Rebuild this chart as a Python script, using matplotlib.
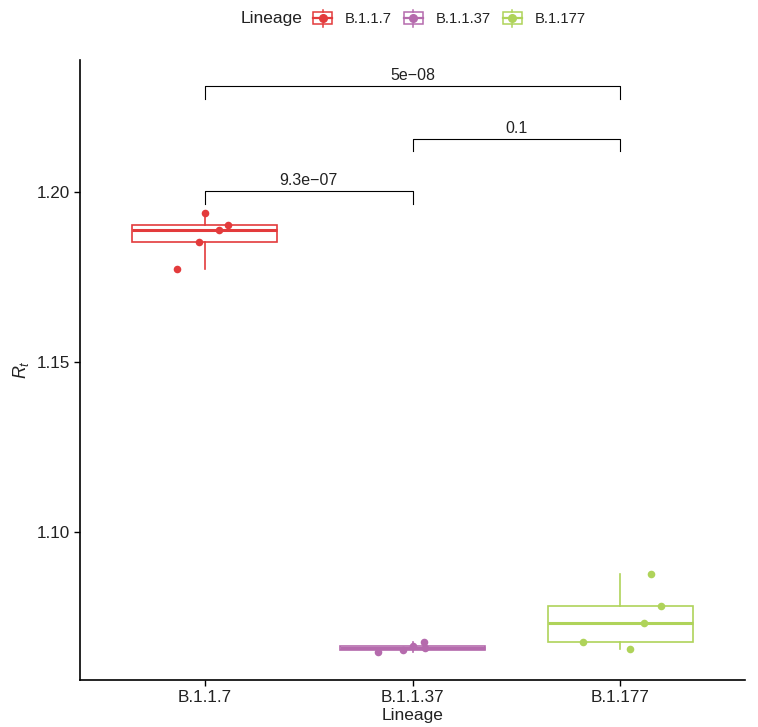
import matplotlib
matplotlib.use("Agg")
import matplotlib.pyplot as plt
from matplotlib.legend_handler import HandlerBase
from matplotlib.patches import Rectangle
from matplotlib.lines import Line2D
import numpy as np

plt.rcParams["font.family"] = ["Liberation Sans", "DejaVu Sans"]
plt.rcParams["mathtext.fontset"] = "custom"
plt.rcParams["mathtext.rm"] = "Liberation Sans"
plt.rcParams["mathtext.it"] = "Liberation Sans:italic"

# ---- data ----
lineages = ["B.1.1.7", "B.1.1.37", "B.1.177"]
colors = ["#E33B3C", "#B56BAD", "#AFD35A"]

rt_b117 = [1.19391, 1.19029, 1.18882, 1.18521, 1.17744]
rt_b1137 = [1.06479, 1.06521, 1.06656, 1.06765, 1.06579]
rt_b1177 = [1.08756, 1.07824, 1.07315, 1.06765, 1.06550]

# horizontal jitter of each sample around its group
jit_b117 = [0.000, 0.114, 0.069, -0.027, -0.135]
jit_b1137 = [-0.165, -0.045, 0.000, 0.054, 0.058]
jit_b1177 = [0.146, 0.195, 0.114, -0.180, 0.049]

# pairwise comparisons: (group a, group b, p-value label, bracket height)
comparisons = [
    (0, 1, "9.3e\u221207", 1.2003),
    (1, 2, "0.1", 1.2157),
    (0, 2, "5e\u221208", 1.2312),
]

values = [rt_b117, rt_b1137, rt_b1177]
jitters = [jit_b117, jit_b1137, jit_b1177]
TEXT = "#222222"

fig = plt.figure(figsize=(7.58, 7.27), dpi=100)
ax = fig.add_axes([80 / 758, 47 / 727, 665 / 758, 620 / 727])

positions = np.arange(1, len(lineages) + 1)
for pos, vals, jit, col in zip(positions, values, jitters, colors):
    ax.boxplot(
        [vals], positions=[pos], widths=0.7, whis=(0, 100),
        showfliers=False, patch_artist=True,
        boxprops=dict(facecolor="white", edgecolor=col, linewidth=1.2),
        medianprops=dict(color=col, linewidth=2.2),
        whiskerprops=dict(color=col, linewidth=1.2),
        capprops=dict(linewidth=0),
        zorder=2,
    )
    ax.scatter(pos + np.array(jit), vals, s=30, color=col, zorder=3,
               linewidths=0)

# significance brackets
tick = 0.0038
for a, b, label, h in comparisons:
    xa, xb = positions[a], positions[b]
    ax.plot([xa, xa, xb, xb], [h - tick, h, h, h - tick], color="black",
            linewidth=0.8, zorder=4)
    ax.annotate(label, xy=((xa + xb) / 2, h), xytext=(0, 2),
                textcoords="offset points", ha="center", va="bottom",
                fontsize=11.5, color=TEXT)

ax.set_xlim(0.4, 3.6)
ax.set_ylim(1.0565, 1.2388)
ax.set_xticks(positions)
ax.set_xticklabels(lineages)
ax.set_yticks([1.10, 1.15, 1.20])
ax.set_yticklabels(["1.10", "1.15", "1.20"])
ax.tick_params(axis="both", labelsize=12.3, labelcolor=TEXT, length=4,
               width=1.0, direction="out", color="black")
for s in ["top", "right"]:
    ax.spines[s].set_visible(False)
for s in ["left", "bottom"]:
    ax.spines[s].set_linewidth(1.2)
    ax.spines[s].set_color("black")

ax.set_xlabel("Lineage", fontsize=12.5, color=TEXT, labelpad=2)
ax.set_ylabel(r"$R_t$", fontsize=13, color=TEXT, labelpad=4)


class BoxKeyHandler(HandlerBase):
    """Legend key drawn as a miniature box plot with a point."""

    def create_artists(self, legend, orig_handle, xdescent, ydescent,
                       width, height, fontsize, trans):
        col = orig_handle.get_color()
        cx = width / 2 - xdescent
        cy = height / 2 - ydescent
        bw, bh = width * 0.92, height * 0.88
        rect = Rectangle((cx - bw / 2, cy - bh / 2), bw, bh, facecolor="white",
                         edgecolor=col, linewidth=1.1, transform=trans)
        w1 = Line2D([cx, cx], [cy + bh / 2, cy + bh / 2 + height * 0.22],
                    color=col, linewidth=1.1, transform=trans)
        w2 = Line2D([cx, cx], [cy - bh / 2, cy - bh / 2 - height * 0.22],
                    color=col, linewidth=1.1, transform=trans)
        med = Line2D([cx - bw / 2, cx + bw / 2], [cy, cy], color=col,
                     linewidth=1.6, transform=trans)
        dot = Line2D([cx], [cy], marker="o", markersize=5.5, color=col,
                     linestyle="none", transform=trans)
        return [rect, w1, w2, med, dot]


handles = [Line2D([], [], color=c) for c in colors]
leg = fig.legend(handles, lineages, loc="center left",
                 bbox_to_anchor=(312 / 758, 1 - 19 / 727),
                 ncol=3, frameon=False, fontsize=10.6,
                 handler_map={Line2D: BoxKeyHandler()},
                 handlelength=1.43, handleheight=1.0, handletextpad=0.8,
                 columnspacing=0.75, borderpad=0, borderaxespad=0)
for t in leg.get_texts():
    t.set_color(TEXT)
fig.text(302 / 758, 1 - 19 / 727, "Lineage", ha="right", va="center",
         fontsize=12.5, color=TEXT)

fig.savefig("out.png", dpi=100)
